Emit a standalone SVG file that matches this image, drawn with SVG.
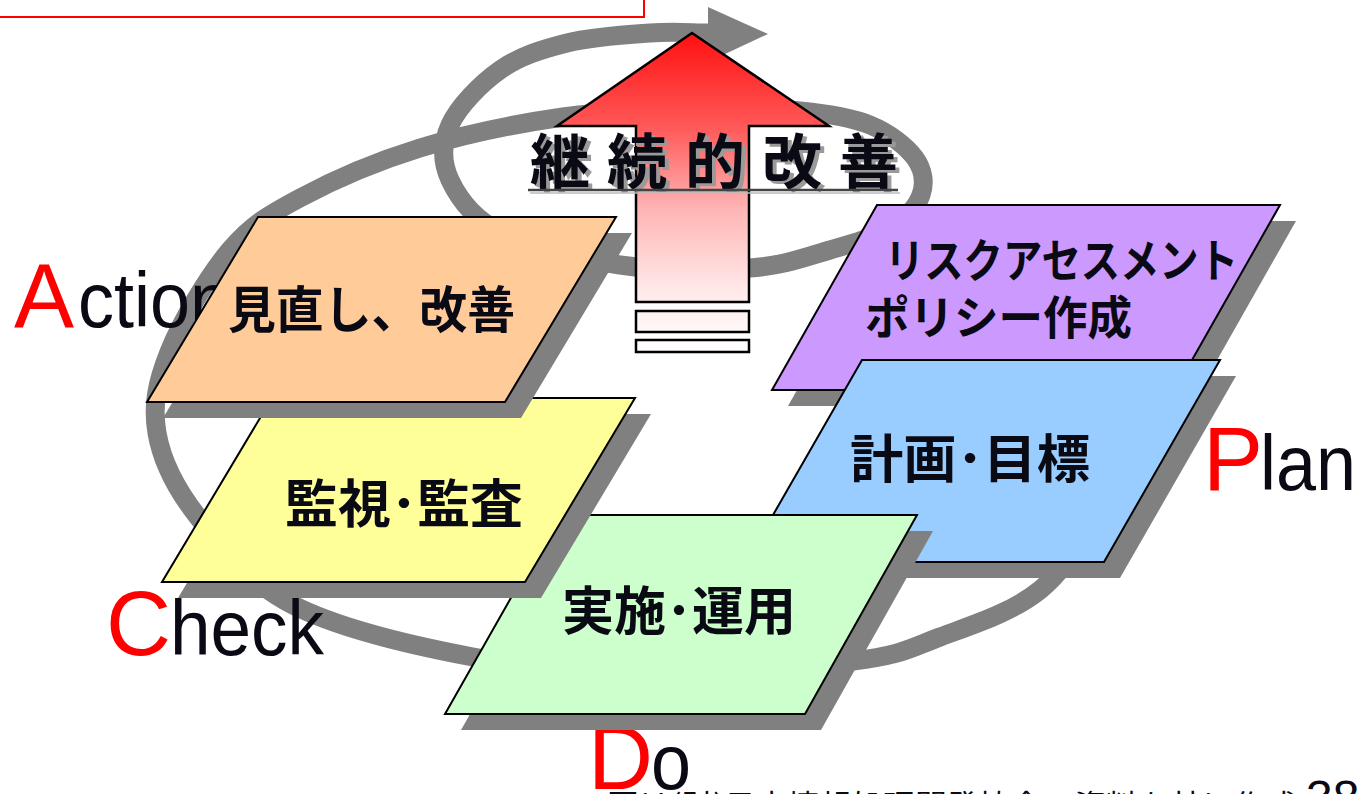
<svg xmlns="http://www.w3.org/2000/svg" width="1360" height="794" viewBox="0 0 1360 794">
<defs>
<style>
.band{fill:none;stroke:#808080;stroke-width:19;stroke-linecap:butt}
.shadow{fill:#808080}
.box{stroke:#000;stroke-width:2;stroke-linejoin:miter}
.jp{font-family:"Noto Sans CJK JP","Noto Sans CJK SC",sans-serif;font-weight:700;fill:#0a0a14}
.red{font-family:"Liberation Sans",Arial,sans-serif;fill:#FF0000;font-size:90px}
.blk{font-family:"Liberation Sans",Arial,sans-serif;fill:#0a0a14;font-size:78px}
</style>
<linearGradient id="redGrad" gradientUnits="userSpaceOnUse" x1="0" y1="33" x2="0" y2="352">
<stop offset="0" stop-color="#FF1010"/>
<stop offset="0.3" stop-color="#FF5A5A"/>
<stop offset="0.55" stop-color="#FFB4B4"/>
<stop offset="0.8" stop-color="#FFE8E8"/>
<stop offset="1" stop-color="#FFFFFF"/>
</linearGradient>
</defs>
<rect x="0" y="0" width="1360" height="794" fill="#FFFFFF"/>

<g id="header-box">
<rect x="-4" y="-40" width="648" height="57" fill="#FFFFFF" stroke="#FF0000" stroke-width="2"/>
</g>

<g id="connectors">
<path class="band" d="M1110,500 C1087,530 1068.3,567.2 1040,590 C1011.7,612.8 971.2,625.2 940,637 C908.8,648.8 901.3,655.2 853,661 C804.7,666.8 713.3,672.7 650,672 C586.7,671.3 532.5,668.2 473,657 C413.5,645.8 338.8,628.3 293,605 C247.2,581.7 220.7,545.7 198,517 C175.3,488.3 161.8,460.5 157,433 C152.2,405.5 156.8,382.5 169,352 C181.2,321.5 208.2,275.7 230,250 C251.8,224.3 268.3,215 300,198 C331.7,181 376.2,161.5 420,148 C463.8,134.5 516.3,123.7 563,117 C609.7,110.3 660.5,109 700,108 C739.5,107 771.7,108.2 800,111 C828.3,113.8 850.8,117.2 870,125 C889.2,132.8 906.5,146.3 915,158 C923.5,169.7 925.2,183.3 921,195 C916.8,206.7 905.2,218.8 890,228 C874.8,237.2 853.3,243.3 830,250 C806.7,256.7 785,265.5 750,268 C715,270.5 661.7,271 620,265 C578.3,259 528.3,246.2 500,232 C471.7,217.8 458.3,197.8 450,180 C441.7,162.2 441.7,143.3 450,125 C458.3,106.7 480.5,83.7 500,70 C519.5,56.3 542,49.2 567,43 C592,36.8 625.8,34.7 650,33 C674.2,31.3 691.3,33 712,33"/>
<polygon points="708,7 768,34 708,62" fill="#808080"/>
</g>

<g id="phase-labels">
<text class="red" x="14" y="327">A</text>
<text class="blk" x="78" y="327" textLength="152" lengthAdjust="spacingAndGlyphs">ction</text>
<text class="red" x="106" y="655">C</text>
<text class="blk" x="170" y="655" textLength="154" lengthAdjust="spacingAndGlyphs">heck</text>
<text class="red" x="588" y="789">D</text>
<text class="blk" x="651" y="789" textLength="40" lengthAdjust="spacingAndGlyphs">o</text>
<text class="red" x="1203" y="490">P</text>
<text class="blk" x="1260" y="490" textLength="96" lengthAdjust="spacingAndGlyphs">lan</text>
</g>

<g id="node-plan-policy">
<polygon class="shadow" points="893,221 1296,221 1191,406 788,406"/>
<polygon class="box" fill="#CC99FF" points="877,205 1280,205 1175,390 772,390"/>
<text class="jp" x="885" y="277" font-size="46" textLength="353" lengthAdjust="spacingAndGlyphs">リスクアセスメント</text>
<text class="jp" x="865" y="334" font-size="46" textLength="267" lengthAdjust="spacingAndGlyphs">ポリシー作成</text>
</g>

<g id="node-plan-goals">
<polygon class="shadow" points="878,376 1236,376 1120,578 762,578"/>
<polygon class="box" fill="#99CCFF" points="862,360 1220,360 1104,562 746,562"/>
<text class="jp" x="850" y="478" font-size="52" textLength="240" lengthAdjust="spacingAndGlyphs">計画･目標</text>
</g>

<g id="node-do">
<polygon class="shadow" points="574,531 933,531 821,730 461,730"/>
<polygon class="box" fill="#CCFFCC" points="558,515 917,515 805,714 445,714"/>
<text class="jp" x="562" y="630" font-size="52" textLength="234" lengthAdjust="spacingAndGlyphs">実施･運用</text>
</g>

<g id="node-check">
<polygon class="shadow" points="288,414 651,414 541,598 178,598"/>
<polygon class="box" fill="#FFFF99" points="272,398 635,398 525,582 162,582"/>
<text class="jp" x="285" y="523" font-size="52" textLength="238" lengthAdjust="spacingAndGlyphs">監視･監査</text>
</g>

<g id="node-action">
<polygon class="shadow" points="274,233 632,233 521,418 163,418"/>
<polygon class="box" fill="#FFCC99" points="258,217 616,217 505,402 147,402"/>
<text class="jp" x="228" y="328" font-size="50" textLength="287" lengthAdjust="spacingAndGlyphs">見直し、改善</text>
</g>

<g id="improvement-arrow">
<polygon fill="url(#redGrad)" stroke="#000" stroke-width="2.5" stroke-linejoin="miter" points="692,33 829,126 749,126 749,302 636,302 636,126 557,126"/>
<rect x="636" y="311" width="113" height="21" fill="url(#redGrad)" stroke="#000" stroke-width="2.5"/>
<rect x="636" y="340" width="113" height="12" fill="url(#redGrad)" stroke="#000" stroke-width="2.5"/>
<text class="jp" x="534 611 689 766 842" y="187" font-size="60" style="fill:#9a9a9a">継続的改善</text>
<text class="jp" x="530 607 685 762 838" y="184" font-size="60">継続的改善</text>
<line x1="528" y1="190" x2="898" y2="190" stroke="#444" stroke-width="2.5"/>
<line x1="530" y1="193" x2="900" y2="193" stroke="#bbb" stroke-width="1.5"/>
</g>

<g id="footnote">
<text x="607" y="816" font-family="'Noto Sans CJK JP',sans-serif" font-size="30" fill="#0a0a14" textLength="690" lengthAdjust="spacingAndGlyphs">図は(財)日本情報処理開発協会の資料を基に作成</text>
<text x="1306" y="814" font-family="'Liberation Sans',Arial,sans-serif" font-size="48" fill="#0a0a14">38</text>
</g>
</svg>
